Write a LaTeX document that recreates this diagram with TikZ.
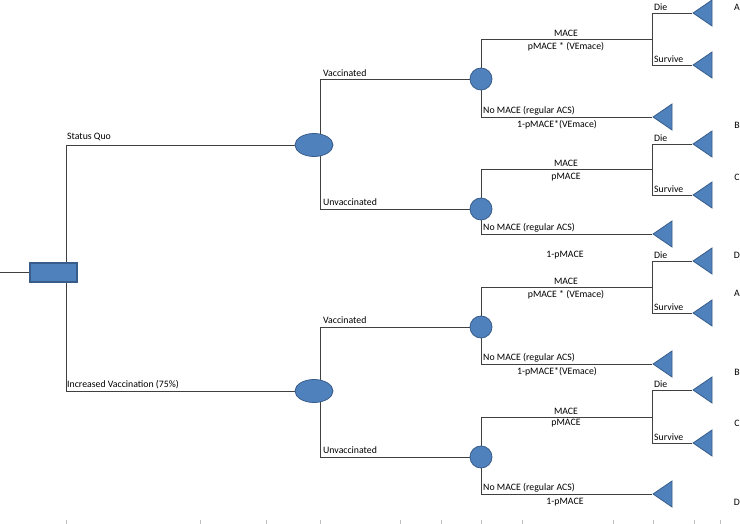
\documentclass[tikz,border=0pt]{standalone}
\usepackage{fontspec}
\setmainfont{Carlito}
\usetikzlibrary{shapes.geometric, positioning, backgrounds}

\definecolor{nodefill}{HTML}{4F81BD}
\definecolor{nodeline}{HTML}{385D8A}

\begin{document}
\begin{tikzpicture}[x=1pt, y=-1pt,
    decision/.style = {rectangle, draw=nodeline, fill=nodefill, line width=1.3pt,
                       minimum width=47pt, minimum height=19pt, inner sep=0pt},
    chance/.style   = {ellipse, draw=nodeline, fill=nodefill, line width=0.8pt,
                       minimum width=38pt, minimum height=23pt, inner sep=0pt},
    event/.style    = {circle, draw=nodeline, fill=nodefill, line width=0.8pt,
                       minimum size=22pt, inner sep=0pt},
    outcome/.style  = {isosceles triangle, shape border rotate=180, isosceles triangle stretches,
                       minimum width=26pt, minimum height=19pt, inner sep=0pt,
                       draw=nodeline, fill=nodefill, line width=0.8pt, anchor=apex},
    branch/.style   = {draw=black!75, line width=0.8pt},
    lbl/.style      = {font=\fontsize{9.8}{11}\selectfont, inner sep=0pt},
    tick/.style     = {draw=black!25, line width=0.5pt},
]
\useasboundingbox (0,0) rectangle (740,524);

% Decision
\node[decision] (root) at (53.5,272.5) {};
\coordinate (in) at (0,272.5);

% Strategies
\node[chance] (sq) at (314,145) {};
\node[chance] (iv) at (314,391) {};

% Vaccination status
\node[event] (sqv) at (481,79)  {};
\node[event] (squ) at (481,209) {};
\node[event] (ivv) at (481,327) {};
\node[event] (ivu) at (481,457) {};

% MACE junctions
\coordinate (sqvm) at (652,39);
\coordinate (squm) at (652,169);
\coordinate (ivvm) at (652,287);
\coordinate (ivum) at (652,417);

% Outcomes
\node[outcome] (sqvd) at (692,13)  {};
\node[outcome] (sqvs) at (692,65)  {};
\node[outcome] (sqvn) at (652,117) {};
\node[outcome] (squd) at (692,144) {};
\node[outcome] (squs) at (692,195) {};
\node[outcome] (squn) at (652,234) {};
\node[outcome] (ivvd) at (692,261) {};
\node[outcome] (ivvs) at (692,313) {};
\node[outcome] (ivvn) at (652,364) {};
\node[outcome] (ivud) at (692,390) {};
\node[outcome] (ivus) at (692,443) {};
\node[outcome] (ivun) at (652,494) {};

% Branches
\begin{scope}[on background layer]
\draw[branch] (in) -- (root);
\draw[branch] ([xshift=12.5]root.center) |- (sq);
\draw[branch] ([xshift=12.5]root.center) |- (iv);

\draw[branch] ([xshift=6]sq.center) |- (sqv);
\draw[branch] ([xshift=6]sq.center) |- (squ);
\draw[branch] ([xshift=6]iv.center) |- (ivv);
\draw[branch] ([xshift=6]iv.center) |- (ivu);

\draw[branch] (sqv) |- (sqvm);
\draw[branch] (sqv) |- (sqvn.apex);
\draw[branch] (sqvm) |- (sqvd.apex);
\draw[branch] (sqvm) |- (sqvs.apex);

\draw[branch] (squ) |- (squm);
\draw[branch] (squ) |- (squn.apex);
\draw[branch] (squm) |- (squd.apex);
\draw[branch] (squm) |- (squs.apex);

\draw[branch] (ivv) |- (ivvm);
\draw[branch] (ivv) |- (ivvn.apex);
\draw[branch] (ivvm) |- (ivvd.apex);
\draw[branch] (ivvm) |- (ivvs.apex);

\draw[branch] (ivu) |- (ivum);
\draw[branch] (ivu) |- (ivun.apex);
\draw[branch] (ivum) |- (ivud.apex);
\draw[branch] (ivum) |- (ivus.apex);
\end{scope}

% Branch labels
\node[lbl, anchor=west] at (67,137) {Status Quo};
\node[lbl, anchor=west] at (67,385) {Increased Vaccination (75\%)};
\node[lbl, anchor=west] at (323,73)  {Vaccinated};
\node[lbl, anchor=west] at (323,202) {Unvaccinated};
\node[lbl, anchor=west] at (323,320) {Vaccinated};
\node[lbl, anchor=west] at (323,450) {Unvaccinated};

\node[lbl] at (566,33)  {MACE};
\node[lbl] at (566,47)  {pMACE * (VEmace)};
\node[lbl, anchor=west] at (483,111) {No MACE (regular ACS)};
\node[lbl] at (557,125) {1-pMACE*(VEmace)};

\node[lbl] at (566,163) {MACE};
\node[lbl] at (566,177) {pMACE};
\node[lbl, anchor=west] at (483,228) {No MACE (regular ACS)};
\node[lbl] at (565,255) {1-pMACE};

\node[lbl] at (566,281) {MACE};
\node[lbl] at (566,295) {pMACE * (VEmace)};
\node[lbl, anchor=west] at (483,358) {No MACE (regular ACS)};
\node[lbl] at (557,372) {1-pMACE*(VEmace)};

\node[lbl] at (566,411) {MACE};
\node[lbl] at (566,423) {pMACE};
\node[lbl, anchor=west] at (483,488) {No MACE (regular ACS)};
\node[lbl] at (565,502) {1-pMACE};

\node[lbl, anchor=west] at (654,7)   {Die};
\node[lbl, anchor=west] at (654,59)  {Survive};
\node[lbl, anchor=west] at (654,138) {Die};
\node[lbl, anchor=west] at (654,189) {Survive};
\node[lbl, anchor=west] at (654,255) {Die};
\node[lbl, anchor=west] at (654,307) {Survive};
\node[lbl, anchor=west] at (654,384) {Die};
\node[lbl, anchor=west] at (654,437) {Survive};

% Endpoints
\node[lbl] (endA1) at (737,7)   {A};
\node[lbl] (endB1) at (737,125) {B};
\node[lbl] (endC1) at (737,177) {C};
\node[lbl] (endD1) at (737,255) {D};
\node[lbl] (endA2) at (737,293) {A};
\node[lbl] (endB2) at (737,372) {B};
\node[lbl] (endC2) at (737,423) {C};
\node[lbl] (endD2) at (737,502) {D};

% Column marks
\foreach \x in {66,200,266,320,400,441,481,522,613,653,694,720}
  \draw[tick] (\x,520) -- (\x,524);

\end{tikzpicture}
\end{document}
